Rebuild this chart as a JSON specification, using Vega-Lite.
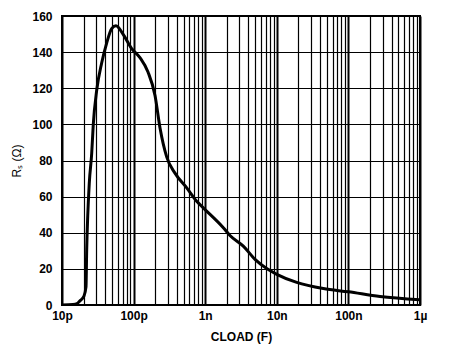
{
  "$schema": "https://vega.github.io/schema/vega-lite/v6.json",
  "width": 358,
  "height": 289,
  "autosize": {"type": "none"},
  "padding": {"left": 62, "top": 16, "right": 30, "bottom": 46},
  "background": "white",
  "data": {
    "values": [
      {"C": 1.0e-11, "Rs": 0},
      {"C": 1.426e-11, "Rs": 0.3},
      {"C": 1.622e-11, "Rs": 0.8},
      {"C": 1.782e-11, "Rs": 2.3},
      {"C": 2.028e-11, "Rs": 5},
      {"C": 2.163e-11, "Rs": 10},
      {"C": 2.213e-11, "Rs": 30.8},
      {"C": 2.286e-11, "Rs": 49},
      {"C": 2.404e-11, "Rs": 67.5},
      {"C": 2.6e-11, "Rs": 84},
      {"C": 2.735e-11, "Rs": 100},
      {"C": 3.055e-11, "Rs": 119},
      {"C": 3.581e-11, "Rs": 134},
      {"C": 4.207e-11, "Rs": 145},
      {"C": 4.943e-11, "Rs": 153},
      {"C": 5.675e-11, "Rs": 154.6},
      {"C": 7.112e-11, "Rs": 150},
      {"C": 9.397e-11, "Rs": 142},
      {"C": 1.227e-10, "Rs": 137},
      {"C": 1.589e-10, "Rs": 129},
      {"C": 1.991e-10, "Rs": 116},
      {"C": 2.339e-10, "Rs": 98},
      {"C": 2.897e-10, "Rs": 82},
      {"C": 3.784e-10, "Rs": 73},
      {"C": 5.521e-10, "Rs": 64.8},
      {"C": 7.603e-10, "Rs": 57.4},
      {"C": 9.397e-10, "Rs": 53.8},
      {"C": 1.791e-9, "Rs": 42.8},
      {"C": 2.218e-9, "Rs": 38.5},
      {"C": 3.404e-9, "Rs": 32.6},
      {"C": 4.966e-9, "Rs": 25.3},
      {"C": 7.228e-9, "Rs": 20.2},
      {"C": 1.0e-8, "Rs": 17},
      {"C": 1.897e-8, "Rs": 12.5},
      {"C": 4.457e-8, "Rs": 9.1},
      {"C": 1.0e-7, "Rs": 7.3},
      {"C": 2.761e-7, "Rs": 4.7},
      {"C": 1.0e-6, "Rs": 2.9}
    ]
  },
  "mark": {"type": "line", "color": "black", "strokeWidth": 3, "interpolate": "monotone", "clip": true},
  "encoding": {
    "x": {
      "field": "C",
      "type": "quantitative",
      "scale": {"type": "log", "domain": [1e-11, 1e-6], "nice": false},
      "axis": {
        "title": "CLOAD (F)",
        "values": [1e-11, 2e-11, 3e-11, 4e-11, 5e-11, 6e-11, 7e-11, 8e-11, 9e-11,
                   1e-10, 2e-10, 3e-10, 4e-10, 5e-10, 6e-10, 7e-10, 8e-10, 9e-10,
                   1e-9, 2e-9, 3e-9, 4e-9, 5e-9, 6e-9, 7e-9, 8e-9, 9e-9,
                   1e-8, 2e-8, 3e-8, 4e-8, 5e-8, 6e-8, 7e-8, 8e-8, 9e-8,
                   1e-7, 2e-7, 3e-7, 4e-7, 5e-7, 6e-7, 7e-7, 8e-7, 9e-7, 1e-6],
        "labelExpr": "abs(log(datum.value)/LN10 - round(log(datum.value)/LN10)) < 0.01 ? ['10p','100p','1n','10n','100n','1µ'][round(log(datum.value)/LN10)+11] : ''",
        "labelOverlap": false,
        "labelFlush": false,
        "ticks": false,
        "domain": false,
        "grid": true,
        "gridColor": "black",
        "gridOpacity": 1,
        "gridWidth": {"condition": {"test": "abs(log(datum.value)/LN10 - round(log(datum.value)/LN10)) < 0.01", "value": 2}, "value": 1.2},
        "labelFont": "Liberation Sans",
        "labelFontWeight": "bold",
        "labelFontSize": 12,
        "labelColor": "black",
        "labelPadding": 5,
        "titleFont": "Liberation Sans",
        "titleFontWeight": "bold",
        "titleFontSize": 12,
        "titleColor": "black",
        "titlePadding": 10
      }
    },
    "y": {
      "field": "Rs",
      "type": "quantitative",
      "scale": {"domain": [0, 160], "nice": false},
      "axis": {
        "title": "Rₛ (Ω)",
        "values": [0, 20, 40, 60, 80, 100, 120, 140, 160],
        "ticks": false,
        "domain": false,
        "grid": true,
        "gridColor": "black",
        "gridOpacity": 1,
        "gridWidth": 1.2,
        "labelFont": "Liberation Sans",
        "labelFontWeight": "bold",
        "labelFontSize": 12,
        "labelColor": "black",
        "labelPadding": 10,
        "titleFont": "Liberation Sans",
        "titleFontWeight": "normal",
        "titleFontSize": 12,
        "titleColor": "black",
        "titlePadding": 8
      }
    }
  },
  "config": {"view": {"stroke": "black", "strokeWidth": 2}}
}
